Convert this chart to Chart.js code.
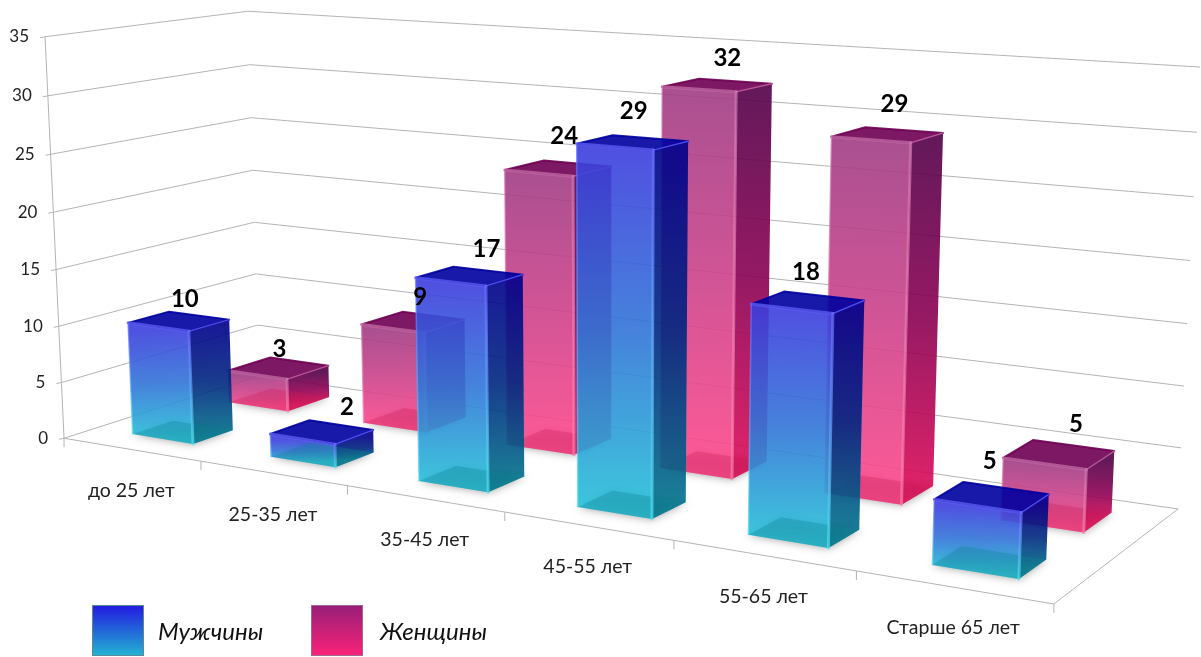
<!DOCTYPE html>
<html lang="ru">
<head>
<meta charset="utf-8">
<title>Возраст</title>
<script src="https://cdn.jsdelivr.net/npm/chart.js@4"></script>
<style>
  html, body { margin: 0; background: #fff; }
  #wrap { width: 1201px; height: 657px; }
</style>
</head>
<body>
<div id="wrap"><canvas id="bars" width="1201" height="657"></canvas></div>
<script>
const categories = ['до 25 лет', '25-35 лет', '35-45 лет', '45-55 лет', '55-65 лет', 'Старше 65 лет'];
const men = [10, 2, 17, 29, 18, 5];
const women = [3, 9, 24, 32, 29, 5];
const valueTicks = [0, 5, 10, 15, 20, 25, 30, 35];

// room corners: [u, depth, height] -> screen
const roomCorners = [
  [0, 0, 0, 64, 438], [1, 0, 0, 1054, 604], [0, 1, 0, 259, 376], [1, 1, 0, 1178, 509],
  [0, 0, 1, 45, 37], [0, 1, 1, 248, 11], [1, 1, 1, 1200, 67]
];

// least squares for the 3x4 camera matrix
function solveCamera(pts) {
  const rows = [], rhs = [];
  pts.forEach(([u, d, h, x, y]) => {
    rows.push([u, d, h, 1, 0, 0, 0, 0, -x * u, -x * d, -x * h]); rhs.push(x);
    rows.push([0, 0, 0, 0, u, d, h, 1, -y * u, -y * d, -y * h]); rhs.push(y);
  });
  const n = 11;
  const m = [];
  for (let i = 0; i < n; i++) {
    m[i] = [];
    for (let j = 0; j < n; j++) m[i][j] = rows.reduce((s, r) => s + r[i] * r[j], 0);
    m[i][n] = rows.reduce((s, r, k) => s + r[i] * rhs[k], 0);
  }
  for (let c = 0; c < n; c++) {
    let p = c;
    for (let r = c + 1; r < n; r++) if (Math.abs(m[r][c]) > Math.abs(m[p][c])) p = r;
    [m[c], m[p]] = [m[p], m[c]];
    for (let r = 0; r < n; r++) {
      if (r === c) continue;
      const f = m[r][c] / m[c][c];
      for (let j = c; j <= n; j++) m[r][j] -= f * m[c][j];
    }
  }
  return m.map((r, i) => r[n] / r[i]);
}
const cam = solveCamera(roomCorners);
function project(u, d, h) {
  const w = cam[8] * u + cam[9] * d + cam[10] * h + 1;
  return {
    x: (cam[0] * u + cam[1] * d + cam[2] * h + cam[3]) / w,
    y: (cam[4] * u + cam[5] * d + cam[6] * h + cam[7]) / w
  };
}

const seriesStyle = {
  men: {
    d0: 0.15, d1: 0.35,
    front: ['rgb(61,61,222)', 'rgb(50,116,216)', 'rgb(39,194,216)'],
    side: ['rgb(0,0,139)', 'rgb(0,38,128)', 'rgb(0,116,139)'],
    top: 'rgb(0,0,160)', edge: ['rgba(105,105,255,0.7)', 'rgba(80,225,240,0.7)'],
    floor: 'rgba(15,130,150,0.32)', alpha: 0.9,
    nudge: [[6, 11], [25, 8], [17, 6], [1, 2], [-2, 3], [-2, -3]]
  },
  women: {
    d0: 0.64, d1: 0.87,
    front: ['rgb(161,61,133)', 'rgb(205,66,139)', 'rgb(255,72,139)'],
    side: ['rgb(83,0,72)', 'rgb(138,0,83)', 'rgb(222,11,88)'],
    top: 'rgb(111,0,83)', edge: ['rgba(205,120,175,0.7)', 'rgba(255,125,170,0.7)'],
    floor: 'rgba(200,30,90,0.30)', alpha: 0.9,
    nudge: [[1, 14], [7, 8], [6, 1], [10, 6], [7, 2], [17, 3]]
  }
};
const barSpan = 0.037; // half a bar along the category axis

function poly(ctx, pts) {
  ctx.beginPath();
  pts.forEach((p, i) => i ? ctx.lineTo(p.x, p.y) : ctx.moveTo(p.x, p.y));
  ctx.closePath();
}
function mid(a, b) { return { x: (a.x + b.x) / 2, y: (a.y + b.y) / 2 }; }
function grad(ctx, from, to, stops) {
  const g = ctx.createLinearGradient(from.x, from.y, to.x, to.y);
  stops.forEach((c, i) => g.addColorStop(i / (stops.length - 1), c));
  return g;
}
function stroke(ctx, a, b, color, width) {
  ctx.strokeStyle = color;
  ctx.lineWidth = width;
  ctx.lineCap = 'round';
  ctx.beginPath();
  ctx.moveTo(a.x, a.y);
  ctx.lineTo(b.x, b.y);
  ctx.stroke();
}

function drawBox(ctx, u, h, st) {
  const u0 = u - barSpan, u1 = u + barSpan;
  const fl = project(u0, st.d0, 0), fr = project(u1, st.d0, 0);
  const br = project(u1, st.d1, 0), bl = project(u0, st.d1, 0);
  const tfl = project(u0, st.d0, h), tfr = project(u1, st.d0, h);
  const tbr = project(u1, st.d1, h), tbl = project(u0, st.d1, h);

  // soft shadow on the floor, the casting shape stays off canvas
  ctx.save();
  ctx.shadowColor = 'rgba(60,60,60,0.5)';
  ctx.shadowBlur = 8;
  ctx.shadowOffsetX = 3000;
  ctx.translate(-3000, 0);
  poly(ctx, [fl, fr, br, bl]);
  ctx.fillStyle = '#000';
  ctx.fill();
  ctx.restore();

  ctx.save();
  ctx.globalAlpha = st.alpha;
  ctx.lineJoin = 'round';
  poly(ctx, [tfl, tfr, fr, fl]);
  ctx.fillStyle = grad(ctx, mid(tfl, tfr), mid(fl, fr), st.front);
  ctx.fill();
  poly(ctx, [tfr, tbr, br, fr]);
  ctx.fillStyle = grad(ctx, mid(tfr, tbr), mid(fr, br), st.side);
  ctx.fill();
  poly(ctx, [tfl, tfr, tbr, tbl]);
  ctx.fillStyle = st.top;
  ctx.fill();
  ctx.strokeStyle = st.top;
  ctx.lineWidth = 2;
  ctx.stroke();
  ctx.restore();

  // inner floor seen through the walls
  poly(ctx, [fl, fr, br, bl]);
  ctx.fillStyle = st.floor;
  ctx.fill();

  // bevels, slightly blurred
  ctx.save();
  ctx.filter = 'blur(0.7px)';
  stroke(ctx, tfl, tfr, st.edge[0], 3);
  stroke(ctx, tfr, fr, grad(ctx, tfr, fr, st.edge), 3);
  stroke(ctx, tfl, fl, grad(ctx, tfl, fl, st.edge), 1.5);
  stroke(ctx, tfr, tbr, st.edge[0], 1.5);
  ctx.restore();
}

const room3d = {
  id: 'room3d',
  beforeDatasetsDraw(chart) {
    const { ctx, scales: { y } } = chart;
    const norm = v => (y.bottom - y.getPixelForValue(v)) / (y.bottom - y.top);
    ctx.save();
    ctx.strokeStyle = '#b4b4b4';
    ctx.lineWidth = 1;
    valueTicks.forEach(v => {
      const h = norm(v);
      const a = project(0, 0, h), b = project(0, 1, h), c = project(1, 1, h);
      ctx.beginPath();
      ctx.moveTo(a.x - 5, a.y + 1);
      ctx.lineTo(a.x, a.y);
      ctx.lineTo(b.x, b.y);
      ctx.lineTo(c.x, c.y);
      ctx.stroke();
    });
    // left axis and floor outline
    const f = [project(0, 0, 0), project(1, 0, 0), project(1, 1, 0)];
    ctx.beginPath();
    ctx.moveTo(project(0, 0, 1).x, project(0, 0, 1).y);
    ctx.lineTo(f[0].x, f[0].y);
    ctx.lineTo(f[1].x, f[1].y);
    ctx.lineTo(f[2].x, f[2].y);
    ctx.stroke();
    for (let k = 0; k <= categories.length; k++) {
      const p = project(k / categories.length, 0, 0);
      ctx.beginPath();
      ctx.moveTo(p.x, p.y);
      ctx.lineTo(p.x, p.y + 9);
      ctx.stroke();
    }
    ctx.restore();
  },
  afterDatasetsDraw(chart) {
    const { ctx, scales: { x, y } } = chart;
    const norm = v => (y.bottom - y.getPixelForValue(v)) / (y.bottom - y.top);
    const slot = v => (x.getPixelForValue(v) - x.left) / (x.right - x.left);
    const rows = [[women, seriesStyle.women], [men, seriesStyle.men]];

    rows.forEach(([vals, st]) => {
      vals.forEach((v, k) => drawBox(ctx, slot(k), norm(v), st));
    });

    ctx.save();
    ctx.textBaseline = 'middle';
    ctx.textAlign = 'center';
    ctx.fillStyle = '#000';
    ctx.font = 'bold 24px Lato, "Open Sans", sans-serif';
    rows.forEach(([vals, st]) => {
      vals.forEach((v, k) => {
        const p = project(slot(k), (st.d0 + st.d1) / 2, norm(v));
        ctx.fillText(String(v), p.x + st.nudge[k][0], p.y - 33 + st.nudge[k][1]);
      });
    });

    ctx.font = '19.5px Lato, "Open Sans", sans-serif';
    ctx.fillStyle = '#222';
    categories.forEach((c, k) => {
      const p = project(slot(k), 0, 0);
      ctx.fillText(c, p.x, p.y + 41);
    });
    ctx.font = '17px Lato, "Open Sans", sans-serif';
    ctx.textAlign = 'right';
    valueTicks.forEach(v => {
      const p = project(0, 0, norm(v));
      ctx.fillText(String(v), p.x - 16, p.y);
    });

    // legend
    ctx.textAlign = 'left';
    ctx.font = 'italic 24px Lato, "Open Sans", sans-serif';
    const swatches = [
      { x: 92, textX: 158, colors: ['#2318e0', '#23b4d2'], border: '#5a8a9a' },
      { x: 311, textX: 380, colors: ['#961e78', '#fa2378'], border: '#a06a90' }
    ];
    chart.data.datasets.forEach((ds, i) => {
      const sw = swatches[i];
      ctx.fillStyle = grad(ctx, { x: 0, y: 605 }, { x: 0, y: 656 }, sw.colors);
      ctx.fillRect(sw.x, 605, 52, 51);
      ctx.strokeStyle = sw.border;
      ctx.lineWidth = 1;
      ctx.strokeRect(sw.x + .5, 605.5, 51, 50);
      ctx.fillStyle = '#111';
      ctx.fillText(ds.label, sw.textX, 632);
    });
    ctx.restore();
  }
};

new Chart(document.getElementById('bars'), {
  type: 'bar',
  data: {
    labels: categories,
    datasets: [
      { label: 'Мужчины', data: men, backgroundColor: 'transparent' },
      { label: 'Женщины', data: women, backgroundColor: 'transparent' }
    ]
  },
  options: {
    responsive: false,
    animation: false,
    layout: { padding: 0 },
    plugins: { legend: { display: false }, tooltip: { enabled: false } },
    scales: {
      x: { display: false },
      y: { display: false, min: 0, max: 35 }
    }
  },
  plugins: [room3d]
});
</script>
</body>
</html>
